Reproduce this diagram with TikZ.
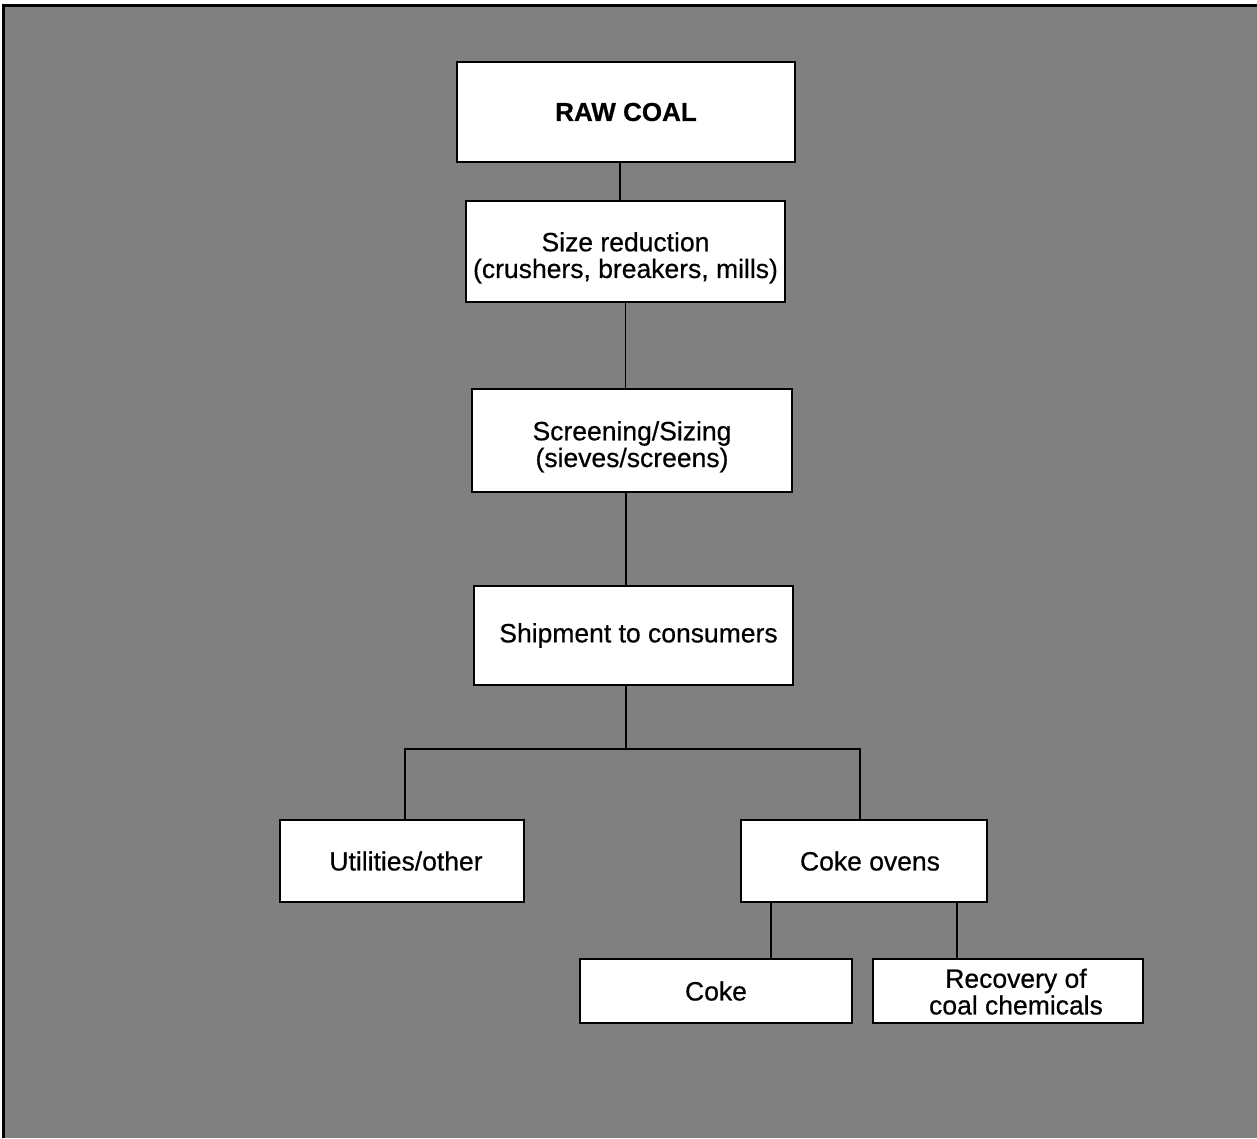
\documentclass[tikz,border=0pt]{standalone}
\usepackage{fontspec}
\setmainfont{Liberation Sans}[FakeBold=0.5]
\definecolor{halftone}{gray}{0.5}
\newcommand{\twolines}[3]{\raisebox{#1}[0pt][0pt]{\begin{tabular}{@{}c@{}}#2\\#3\end{tabular}}}
\tikzset{
  box/.style={draw=black, line width=2pt, fill=white, inner sep=0pt, align=center,
    font=\fontsize{26.5}{25}\selectfont},
  link/.style={draw=black, line width=1.6pt},
}
\begin{document}
\begin{tikzpicture}[x=1pt,y=-1pt]
\useasboundingbox (0,0) rectangle (1257,1138);
\fill[white] (0,0) rectangle (1257,1138);
\fill[halftone] (3,5) rectangle (1257,1138);
\draw[line width=3pt] (3,1138) -- (3,5) -- (1257,5);

\node[box, minimum width=338pt, minimum height=100pt, font=\bfseries\fontsize{26}{25}\selectfont] (raw) at (626,112) {RAW COAL};
\node[box, minimum width=319pt, minimum height=101pt] (size) at (625.5,251.5) {\twolines{-13.5pt}{Size reduction}{(crushers, breakers, mills)}};
\node[box, minimum width=320pt, minimum height=103pt] (screen) at (632,440.5) {\twolines{-13.5pt}{Screening/Sizing}{(sieves/screens)}};
\node[box, minimum width=319pt, minimum height=99pt] (ship) at (633.5,635.5) {\hspace*{10pt}Shipment to consumers};
\node[box, minimum width=244pt, minimum height=82pt] (util) at (402,861) {\hspace*{8pt}Utilities/other};
\node[box, minimum width=246pt, minimum height=82pt] (ovens) at (864,861) {\hspace*{12pt}Coke ovens};
\node[box, minimum width=272pt, minimum height=64pt] (coke) at (716,991) {Coke};
\node[box, minimum width=270pt, minimum height=64pt] (recov) at (1008,991) {\hspace*{16pt}\twolines{-10.5pt}{Recovery of}{coal chemicals}};

\coordinate (busc) at (626,749);
\coordinate (busl) at (405,749);
\coordinate (busr) at (860,749);
\coordinate (ovl) at (771,902);
\coordinate (ovr) at (957,902);

\draw[link] ([xshift=-6pt]raw.south) -- ([xshift=-6pt]raw.south |- size.north);
\draw[link] (size.south) -- (size.south |- screen.north);
\draw[link] ([xshift=-6pt]screen.south) -- ([xshift=-6pt]screen.south |- ship.north);
\draw[link] (ship.south -| busc) -- (busc);
\draw[link] (busl |- util.north) -- (busl) -- (busr) -- (busr |- ovens.north);
\draw[link] (ovl) -- (ovl |- coke.north);
\draw[link] (ovr) -- (ovr |- recov.north);
\end{tikzpicture}
\end{document}
